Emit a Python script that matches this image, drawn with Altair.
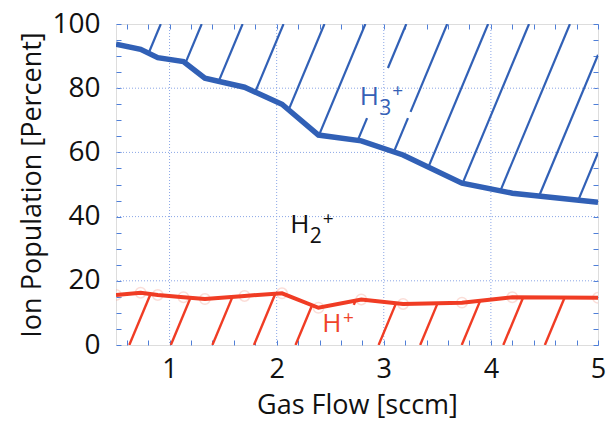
import altair as alt
import numpy as np
import pandas as pd

# ---- data ----
gas_flow = [0.5, 0.73, 0.89, 1.13, 1.33, 1.7, 2.05, 2.39, 2.79, 3.18, 3.73, 4.2, 5.0]
pct_h3 = [93.7, 92.1, 89.5, 88.3, 83.1, 80.3, 75.0, 65.4, 63.6, 59.2, 50.4, 47.3, 44.5]
pct_h1 = [15.6, 16.3, 15.6, 14.9, 14.3, 15.3, 16.1, 11.6, 14.2, 12.8, 13.2, 14.9, 14.7]

x_tick_labels = [1, 2, 3, 4, 5]
y_tick_labels = [0, 20, 40, 60, 80, 100]
x_minor_step = 0.2
y_minor_step = 5

label_main = ["H", "H", "H"]
label_sub = ["3", "2", ""]
label_x = [2.864, 2.216, 2.516]
label_y = [74.8, 34.8, 4.1]
label_colors = ["#3560b6", "#111111", "#f0442a"]

# ---- style ----
BLUE = "#3160b6"
RED = "#f03c24"
FRAME = "#4f7fd8"
GRID = "#8aa6e6"
FONT = "Open Sans"
XDOM = [0.5, 5.0]
YDOM = [0, 100]

SLOPE = 0.0125          # hatch: x change (data) per percent
BLUE_PHASE, BLUE_STEP = 0.918, 0.382
RED_PHASE, RED_STEP = 0.624, 0.388
BLUE_GAP = (2.74, 3.25, 70.7, 86.3)   # box kept clear for the H3+ label
RED_GAP = (2.41, 2.74, 0.0, 12.5)     # box kept clear for the H+ label


def curve_hit(c, xs, ys):
    for i in range(len(xs) - 1):
        x1, y1, x2, y2 = xs[i], ys[i], xs[i + 1], ys[i + 1]
        den = (x2 - x1) - SLOPE * (y2 - y1)
        if abs(den) < 1e-12:
            continue
        t = (c + SLOPE * y1 - x1) / den
        if 0 <= t <= 1:
            return x1 + t * (x2 - x1), y1 + t * (y2 - y1)
    return None


def minus_box(p0, p1, box):
    bx0, bx1, by0, by1 = box
    dx, dy = p1[0] - p0[0], p1[1] - p0[1]
    t0, t1 = 0.0, 1.0
    for p, q in ((-dx, p0[0] - bx0), (dx, bx1 - p0[0]), (-dy, p0[1] - by0), (dy, by1 - p0[1])):
        if p == 0:
            if q < 0:
                return [(p0, p1)]
            continue
        r = q / p
        if p < 0:
            t0 = max(t0, r)
        else:
            t1 = min(t1, r)
    if t0 >= t1:
        return [(p0, p1)]
    pt = lambda t: (p0[0] + t * dx, p0[1] + t * dy)
    out = []
    if t0 > 1e-6:
        out.append((p0, pt(t0)))
    if t1 < 1 - 1e-6:
        out.append((pt(t1), p1))
    return out


rows = []
k = 0
while True:
    xt = BLUE_PHASE + k * BLUE_STEP
    c = xt - SLOPE * 100
    hit = curve_hit(c, gas_flow, pct_h3)
    k += 1
    if hit is None or hit[0] > XDOM[1]:
        if c + SLOPE * 40 > XDOM[1]:
            break
        continue
    start = (xt, 100.0) if xt <= XDOM[1] else (XDOM[1], (XDOM[1] - c) / SLOPE)
    for a, b in minus_box(start, hit, BLUE_GAP):
        rows.append({"x": a[0], "y": a[1], "x2": b[0], "y2": b[1], "s": "H3"})

k = 0
while True:
    b0 = RED_PHASE + k * RED_STEP
    k += 1
    if b0 > XDOM[1]:
        break
    hit = curve_hit(b0, gas_flow, pct_h1)
    if hit is None or hit[0] > XDOM[1]:
        continue
    for a, b in minus_box((b0, 0.0), hit, RED_GAP):
        rows.append({"x": a[0], "y": a[1], "x2": b[0], "y2": b[1], "s": "H1"})

hatch = pd.DataFrame(rows)
curves = pd.DataFrame({"x": gas_flow, "h3": pct_h3, "h1": pct_h1})

xs = alt.Scale(domain=XDOM, nice=False, zero=False)
ys = alt.Scale(domain=YDOM, nice=False, zero=False)

x_ticks = [float(v) for v in np.round(np.arange(XDOM[0] + 0.1, XDOM[1] + 1e-9, x_minor_step), 1)]
y_ticks = [float(v) for v in np.arange(YDOM[0], YDOM[1] + 1e-9, y_minor_step)]

x_lab_expr = "abs(datum.value - round(datum.value)) < 1e-6 ? '' + round(datum.value) : ''"
y_lab_expr = "datum.value % 20 === 0 ? '' + datum.value : ''"

axis_common = dict(grid=False, domain=False, ticks=True, tickSize=5, offset=-5,
                   tickColor=FRAME, tickWidth=1, labelFont=FONT, labelColor="#111111",
                   labelFlush=False, labelOverlap=False, titleFont=FONT,
                   titleFontWeight="normal", titleColor="#111111")

x_bottom = alt.Axis(orient="bottom", values=x_ticks, labelExpr=x_lab_expr,
                    title="Gas Flow [sccm]", labelFontSize=27, titleFontSize=27,
                    labelPadding=11, titlePadding=10, **axis_common)
y_left = alt.Axis(orient="left", values=y_ticks, labelExpr=y_lab_expr,
                  title="Ion Population [Percent]", labelFontSize=28, titleFontSize=27,
                  labelPadding=16, titlePadding=5, **axis_common)
x_top = alt.Axis(orient="top", values=x_ticks, labels=False, title=None, **axis_common)
y_right = alt.Axis(orient="right", values=y_ticks, labels=False, title=None, **axis_common)

grid_x = alt.Chart(pd.DataFrame({"v": x_tick_labels[:-1]})).mark_rule(
    color=GRID, strokeWidth=1, strokeDash=[1, 2]).encode(x=alt.X("v:Q", scale=xs, axis=None))
grid_y = alt.Chart(pd.DataFrame({"v": y_tick_labels[1:-1]})).mark_rule(
    color=GRID, strokeWidth=1, strokeDash=[1, 2]).encode(y=alt.Y("v:Q", scale=ys, axis=None))

hatch_blue = alt.Chart(hatch[hatch.s == "H3"]).mark_rule(color=BLUE, strokeWidth=2.2, clip=True).encode(
    x=alt.X("x:Q", scale=xs, axis=None), y=alt.Y("y:Q", scale=ys, axis=None), x2="x2", y2="y2")
hatch_red = alt.Chart(hatch[hatch.s == "H1"]).mark_rule(color=RED, strokeWidth=2.4, clip=True).encode(
    x=alt.X("x:Q", scale=xs, axis=None), y=alt.Y("y:Q", scale=ys, axis=None), x2="x2", y2="y2")

line_blue = alt.Chart(curves).mark_line(color=BLUE, strokeWidth=5.5, clip=True).encode(
    x=alt.X("x:Q", scale=xs, axis=x_bottom), y=alt.Y("h3:Q", scale=ys, axis=y_left))
pts_red = alt.Chart(curves).mark_point(shape="circle", filled=False, size=110, color="#f5a090",
                                       strokeWidth=1.5, opacity=0.35, clip=True).encode(
    x=alt.X("x:Q", scale=xs, axis=None), y=alt.Y("h1:Q", scale=ys, axis=None))
line_red = alt.Chart(curves).mark_line(color=RED, strokeWidth=4, clip=True).encode(
    x=alt.X("x:Q", scale=xs, axis=x_top), y=alt.Y("h1:Q", scale=ys, axis=y_right))

text_layers = []
for i in range(len(label_main)):
    d = pd.DataFrame({"x": [label_x[i]], "y": [label_y[i]]})
    enc = dict(x=alt.X("x:Q", scale=xs, axis=None), y=alt.Y("y:Q", scale=ys, axis=None))
    text_layers.append(alt.Chart(d).mark_text(text=label_main[i], font=FONT, fontSize=26,
                                              color=label_colors[i], align="center",
                                              baseline="alphabetic").encode(**enc))
    if label_sub[i]:
        text_layers.append(alt.Chart(d).mark_text(text=label_sub[i], font=FONT, fontSize=21,
                                                  color=label_colors[i], align="left",
                                                  baseline="alphabetic", dx=10, dy=10).encode(**enc))
    text_layers.append(alt.Chart(d).mark_text(text="+", font=FONT, fontSize=19,
                                              color=label_colors[i], align="left",
                                              baseline="middle", dx=23 if label_sub[i] else 11,
                                              dy=-14).encode(**enc))

chart = alt.layer(grid_x, grid_y, hatch_blue, hatch_red, line_blue, pts_red, line_red,
                  *text_layers).resolve_axis(x="independent", y="independent").properties(
    width=482, height=321,
    autosize=alt.AutoSizeParams(type="none"),
    padding={"left": 116, "top": 24, "right": 14, "bottom": 81},
).configure_view(stroke=FRAME, strokeWidth=1.2).configure(background="white")

chart.save("out.html", embed_options={"renderer": "svg", "actions": False})
